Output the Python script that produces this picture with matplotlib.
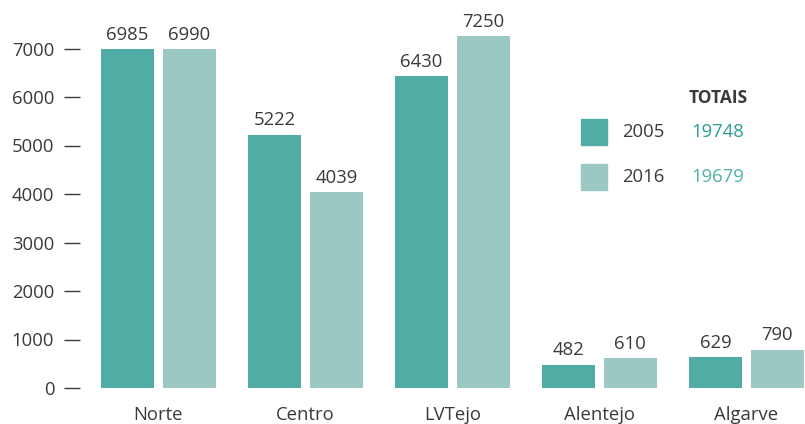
import numpy as np
import matplotlib
matplotlib.use('Agg')
import matplotlib.pyplot as plt
from matplotlib.patches import Rectangle

# data
regions = ['Norte', 'Centro', 'LVTejo', 'Alentejo', 'Algarve']
vals_2005 = [6985, 5222, 6430, 482, 629]
vals_2016 = [6990, 4039, 7250, 610, 790]
years = ['2005', '2016']
totals = [19748, 19679]
yticks = [0, 1000, 2000, 3000, 4000, 5000, 6000, 7000]

c2005 = '#50aca4'
c2016 = '#9cc8c4'
tot_colors = ['#2a9d90', '#4fb3a7']
txt = '#3a3a3a'

plt.rcParams['font.family'] = ['Open Sans', 'DejaVu Sans']
fs = 13.3

W, H = 805, 424
fig = plt.figure(figsize=(W / 100, H / 100), dpi=100)
ax = fig.add_axes([80 / W, 36 / H, 1 - 80 / W, 1 - 36 / H])

x = np.arange(len(regions))
w = 0.36
off = 0.21
b1 = ax.bar(x - off, vals_2005, w, color=c2005)
b2 = ax.bar(x + off, vals_2016, w, color=c2016)
for bars in (b1, b2):
    for b in bars:
        ax.text(b.get_x() + b.get_width() / 2, b.get_height() + 110,
                str(int(b.get_height())), ha='center', va='bottom',
                fontsize=fs, color=txt)

ax.set_xlim(-0.534, 4.398)
ax.set_ylim(0, 8000)
ax.set_yticks(yticks)
ax.set_yticklabels([str(t) for t in yticks])
ax.set_xticks(x)
ax.set_xticklabels(regions)
ax.tick_params(axis='y', direction='out', length=11.5, width=1, color=txt,
               pad=7, labelsize=fs, labelcolor=txt)
ax.tick_params(axis='x', length=0, pad=13, labelsize=fs, labelcolor=txt)
for s in ax.spines.values():
    s.set_visible(False)

# legend with totals
def fx(px):
    return px / W

def fy(py):
    return 1 - py / H

fig.text(fx(718), fy(98), 'TOTAIS', ha='center', va='center',
         fontsize=12.5, fontweight='bold', color=txt)
for i, (yr, col, tot, tc) in enumerate(zip(years, [c2005, c2016], totals, tot_colors)):
    yc = 132 + i * 45
    fig.patches.append(Rectangle((fx(581), fy(yc + 13)), 26 / W, 26 / H,
                                 transform=fig.transFigure, color=col))
    fig.text(fx(643), fy(yc), yr, ha='center', va='center', fontsize=fs, color=txt)
    fig.text(fx(718), fy(yc), str(tot), ha='center', va='center', fontsize=fs, color=tc)

fig.savefig('out.png', dpi=100)
